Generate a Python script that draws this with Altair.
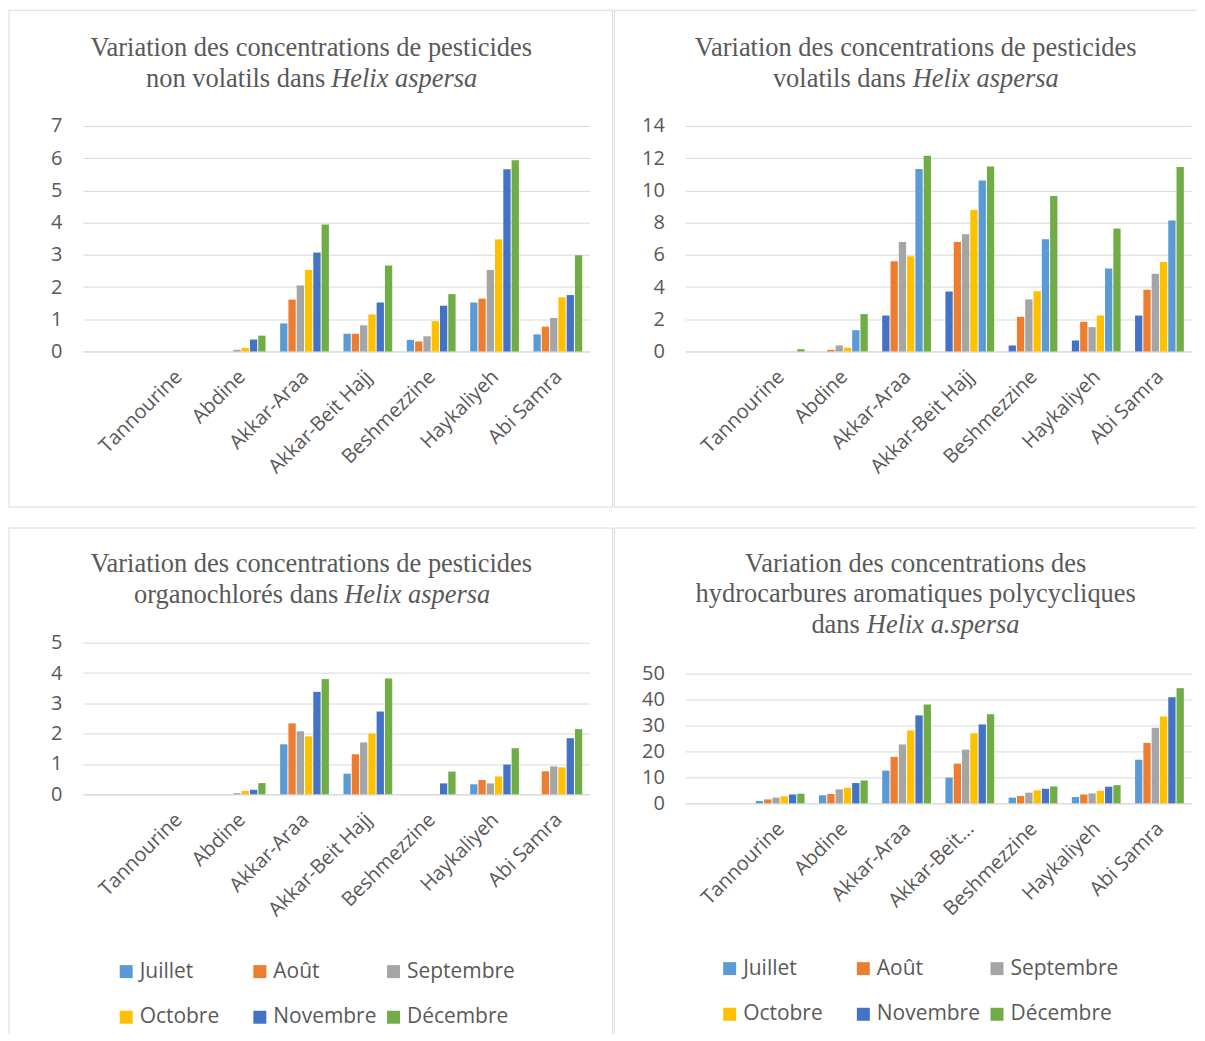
import altair as alt
import pandas as pd

# ---------------- data ----------------
sites = ["Tannourine", "Abdine", "Akkar-Araa", "Akkar-Beit Hajj",
         "Beshmezzine", "Haykaliyeh", "Abi Samra"]
months = ["Juillet", "Août", "Septembre", "Octobre", "Novembre", "Décembre"]

# pesticides non volatils (one list per month, values per site)
nv_juillet = [0, 0, 0.87, 0.55, 0.36, 1.52, 0.53]
nv_aout = [0, 0, 1.61, 0.55, 0.31, 1.64, 0.77]
nv_septembre = [0, 0.05, 2.05, 0.81, 0.47, 2.53, 1.04]
nv_octobre = [0, 0.11, 2.53, 1.15, 0.94, 3.48, 1.68]
nv_novembre = [0, 0.37, 3.07, 1.52, 1.42, 5.66, 1.75]
nv_decembre = [0, 0.49, 3.94, 2.67, 1.78, 5.94, 2.99]

# pesticides volatils
v_juillet = [0, 0, 2.23, 3.72, 0.37, 0.68, 2.23]
v_aout = [0, 0.10, 5.60, 6.80, 2.15, 1.84, 3.83]
v_septembre = [0, 0.37, 6.80, 7.28, 3.23, 1.51, 4.82]
v_octobre = [0, 0.23, 5.91, 8.79, 3.74, 2.23, 5.56]
v_novembre = [0, 1.32, 11.33, 10.61, 6.97, 5.15, 8.13]
v_decembre = [0.14, 2.32, 12.16, 11.48, 9.66, 7.63, 11.46]

# pesticides organochlorés
oc_juillet = [0, 0, 1.65, 0.68, 0, 0.33, 0]
oc_aout = [0, 0, 2.34, 1.32, 0, 0.47, 0.76]
oc_septembre = [0, 0.04, 2.08, 1.71, 0, 0.36, 0.92]
oc_octobre = [0, 0.11, 1.91, 2.00, 0, 0.59, 0.89]
oc_novembre = [0, 0.15, 3.38, 2.73, 0.36, 0.98, 1.85]
oc_decembre = [0, 0.37, 3.80, 3.82, 0.75, 1.52, 2.15]

# hydrocarbures aromatiques polycycliques
hap_juillet = [0.9, 3.1, 12.6, 9.9, 2.2, 2.4, 16.8]
hap_aout = [1.5, 3.6, 17.9, 15.3, 2.8, 3.4, 23.3]
hap_septembre = [2.2, 5.4, 22.7, 20.7, 4.1, 3.8, 29.1]
hap_octobre = [2.7, 6.0, 28.1, 27.0, 5.0, 4.8, 33.5]
hap_novembre = [3.4, 7.8, 33.9, 30.4, 5.6, 6.4, 40.9]
hap_decembre = [3.7, 8.8, 38.1, 34.3, 6.5, 7.0, 44.4]

colors_std = ["#5B9BD5", "#ED7D31", "#A5A5A5", "#FFC000", "#4472C4", "#70AD47"]
colors_vol = ["#4472C4", "#ED7D31", "#A5A5A5", "#FFC000", "#5B9BD5", "#70AD47"]

GREY = "#595959"
GRID = "#D9D9D9"
SANS = "Open Sans"
SERIF = "Liberation Serif"
domain_x = [" "] + sites


def long_df(series):
    rows = []
    for m, vals in zip(months, series):
        for s, v in zip(sites, vals):
            rows.append({"site": s, "month": m, "value": v})
    return pd.DataFrame(rows)


one = pd.DataFrame({"k": [0]})


def rule_v(x, y1, y2):
    return alt.Chart(one).mark_rule(color=GRID, strokeWidth=1).encode(
        x=alt.value(x), y=alt.value(y1), y2=alt.value(y2))


def rule_h(y, x1, x2):
    return alt.Chart(one).mark_rule(color=GRID, strokeWidth=1).encode(
        y=alt.value(y), x=alt.value(x1), x2=alt.value(x2))


def text(t, x, y, align="center", italic=False):
    kw = dict(text=t, align=align, baseline="middle", font=SERIF,
              fontSize=26.5, color=GREY)
    if italic:
        kw["fontStyle"] = "italic"
    return alt.Chart(one).mark_text(**kw).encode(x=alt.value(x), y=alt.value(y))


def panel(series, colors, ymax, ytop, ystep, w, h, frames, titles, legend=None,
          label_expr=None):
    df = long_df(series)
    xaxis = dict(title=None, labelAngle=-45, labelAlign="right",
                 labelBaseline="middle", labelFont=SANS, labelFontSize=20,
                 labelColor=GREY, labelPadding=22, labelOffset=1, ticks=False,
                 domainColor=GRID, domainWidth=1, grid=False)
    if label_expr:
        xaxis["labelExpr"] = label_expr
    if legend is None:
        leg = None
    else:
        leg = alt.Legend(title=None, orient="none", legendX=legend[0],
                         legendY=legend[1], columns=3, direction="horizontal",
                         symbolType="square", symbolSize=169,
                         symbolStrokeWidth=0, labelFont=SANS, labelFontSize=21,
                         labelColor=GREY, labelOffset=3, gridAlign="all",
                         columnPadding=1, rowPadding=24)
    bars = alt.Chart(df).mark_bar().encode(
        x=alt.X("site:N", scale=alt.Scale(domain=domain_x, paddingInner=0.23,
                                          paddingOuter=0.115),
                axis=alt.Axis(**xaxis)),
        xOffset=alt.XOffset("month:N", scale=alt.Scale(domain=months,
                                                       paddingInner=0.12)),
        y=alt.Y("value:Q", scale=alt.Scale(domain=[0, ytop], nice=False),
                axis=alt.Axis(title=None, values=list(range(0, ymax + 1, ystep)),
                              labelFont=SANS, labelFontSize=20, labelColor=GREY,
                              labelPadding=21, ticks=False, domain=False,
                              gridColor=GRID, gridWidth=1)),
        color=alt.Color("month:N", scale=alt.Scale(domain=months, range=colors),
                        legend=leg),
    )
    layers = frames + [bars] + titles
    return alt.layer(*layers).properties(width=w, height=h)


# top-left : plot origin (82,124)
p1 = panel(
    [nv_juillet, nv_aout, nv_septembre, nv_octobre, nv_novembre, nv_decembre],
    colors_std, 7, 7, 1, 508, 226,
    [rule_v(-74, -116, 382), rule_v(531, -116, 382),
     rule_h(-116, -74, 531), rule_h(382, -74, 531)],
    [text("Variation des concentrations de pesticides", 229, -78),
     text("non volatils dans", 243, -47, align="right"),
     text("Helix aspersa", 249, -47, align="left", italic=True)],
)

# top-right : plot origin (684,124)
p2 = panel(
    [v_juillet, v_aout, v_septembre, v_octobre, v_novembre, v_decembre],
    colors_vol, 14, 14, 2, 507, 226,
    [rule_v(-71, -116, 382), rule_h(-116, -71, 512), rule_h(382, -71, 512)],
    [text("Variation des concentrations de pesticides", 231, -78),
     text("volatils dans", 221, -47, align="right"),
     text("Helix aspersa", 228, -47, align="left", italic=True)],
)

# bottom-left : plot origin (82,640)
p3 = panel(
    [oc_juillet, oc_aout, oc_septembre, oc_octobre, oc_novembre, oc_decembre],
    colors_std, 5, 5, 1, 508, 152,
    [rule_v(-74, -115, 392), rule_v(531, -115, 392), rule_h(-115, -74, 531)],
    [text("Variation des concentrations de pesticides", 229, -79),
     text("organochlorés dans", 256, -48, align="right"),
     text("Helix aspersa", 262, -48, align="left", italic=True)],
    legend=(33, 319),
)

# bottom-right : plot origin (684,640); the 0-50 axis occupies the lower 130 px
p4 = panel(
    [hap_juillet, hap_aout, hap_septembre, hap_octobre, hap_novembre, hap_decembre],
    colors_std, 50, 50 * 161 / 130, 10, 507, 161,
    [rule_v(-71, -115, 392), rule_h(-115, -71, 512)],
    [text("Variation des concentrations des", 231, -79),
     text("hydrocarbures aromatiques polycycliques", 231, -49),
     text("dans", 175, -18, align="right"),
     text("Helix a.spersa", 182, -18, align="left", italic=True)],
    legend=(34, 316),
    label_expr="datum.value == 'Akkar-Beit Hajj' ? 'Akkar-Beit...' : datum.label",
)

top = alt.hconcat(p1, p2, spacing=0).resolve_scale(color="independent")
bottom = alt.hconcat(p3, p4, spacing=0).resolve_scale(color="independent")
chart = (
    alt.vconcat(top, bottom, spacing=19)
    .resolve_scale(color="independent")
    .properties(padding=0)
    .configure_view(stroke=None)
)

chart.save("out.html", embed_options={"renderer": "svg", "actions": False})
